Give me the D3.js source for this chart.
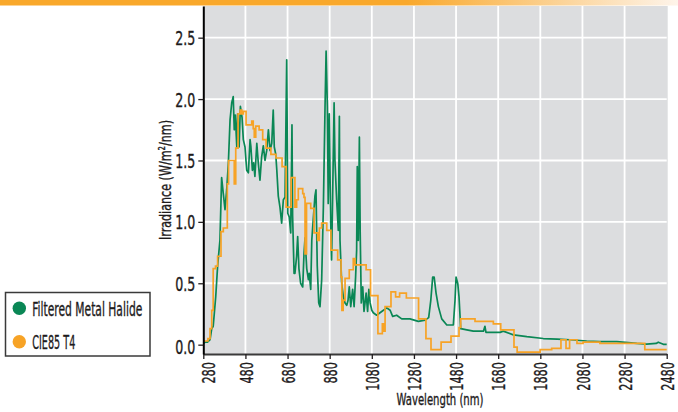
<!DOCTYPE html>
<html>
<head>
<meta charset="utf-8">
<script src="https://cdn.jsdelivr.net/npm/d3@7"></script>
<style>
  body { margin: 0; background: #fff; }
  text { font-family: "Liberation Sans Narrow", "DejaVu Sans Condensed", sans-serif; fill: #1e1b1c; stroke: #1e1b1c; stroke-width: 0.35px; }
</style>
</head>
<body>
<svg id="chart" width="678" height="412"></svg>
<script>
// tick labels
const xTicks = [280, 480, 680, 880, 1080, 1280, 1480, 1680, 1880, 2080, 2280, 2480];
const yTicks = [0.0, 0.5, 1.0, 1.5, 2.0, 2.5];

const seriesNames = ["Filtered Metal Halide", "CIE85 T4"];
const seriesColors = ["#0a8755", "#f7a326"];

// Filtered Metal Halide: [wavelength nm, irradiance W/m2/nm]
const metalHalide = [
  [280,0.01],[288,0.02],[300,0.02],[312,0.04],[320,0.13],[327,0.15],[339,0.39],[348,0.64],[359,0.85],
  [367,1.36],[375,1.23],[383,1.10],[391,1.26],[399,1.48],[407,1.83],[415,1.97],[422,2.02],[427,1.75],
  [432,1.87],[439,1.61],[443,1.88],[450,1.61],[456,1.94],[464,1.85],[470,1.67],[478,1.61],[486,1.42],
  [494,1.40],[502,1.67],[506,1.61],[513,1.42],[519,1.48],[525,1.37],[534,1.64],[541,1.48],[549,1.34],
  [557,1.53],[565,1.62],[573,1.50],[581,1.58],[589,1.75],[597,1.58],[605,1.64],[612,1.91],[617,1.61],
  [624,1.55],[629,1.42],[636,1.21],[644,1.12],[652,0.99],[660,1.18],[668,1.20],[676,2.32],[681,1.07],
  [688,1.04],[695,0.91],[701,1.79],[704,1.05],[711,0.58],[715,0.58],[723,0.72],[728,0.88],[734,0.62],
  [742,0.50],[752,0.47],[758,0.74],[763,0.87],[771,0.62],[779,0.53],[783,0.58],[790,0.45],[795,0.85],
  [802,1.02],[810,1.21],[815,1.26],[821,0.64],[828,0.34],[834,0.31],[842,0.53],[850,1.12],[858,1.94],
  [863,2.39],[869,1.94],[873,1.15],[878,1.88],[885,0.95],[889,0.69],[894,1.20],[901,1.97],[905,1.50],
  [913,1.18],[921,0.93],[926,1.86],[929,0.85],[937,0.50],[945,0.39],[953,0.34],[961,0.32],[967,0.36],
  [973,0.47],[980,0.31],[989,0.45],[996,0.31],[1003,0.55],[1008,0.77],[1011,1.45],[1016,0.85],[1021,1.69],
  [1025,0.90],[1030,0.34],[1037,0.47],[1043,0.27],[1053,0.42],[1060,0.27],[1066,0.45],[1072,0.34],
  [1080,0.28],[1087,0.26],[1103,0.24],[1127,0.27],[1151,0.30],[1167,0.28],[1179,0.23],[1198,0.24],
  [1222,0.21],[1261,0.21],[1301,0.19],[1333,0.20],[1350,0.22],[1360,0.36],[1369,0.55],[1376,0.55],
  [1385,0.42],[1396,0.31],[1412,0.21],[1436,0.16],[1467,0.16],[1475,0.36],[1480,0.55],[1488,0.50],
  [1494,0.39],[1502,0.13],[1531,0.12],[1562,0.11],[1610,0.11],[1617,0.15],[1622,0.10],[1657,0.10],
  [1689,0.10],[1704,0.11],[1752,0.08],[1816,0.065],[1894,0.05],[1960,0.045],[2021,0.04],[2100,0.03],
  [2163,0.025],[2243,0.025],[2338,0.01],[2385,0.005],[2430,0.01],[2440,0.02],[2455,0.01],[2464,0.003],
  [2480,0.003]
];

// CIE85 T4: step starts [wavelength nm, irradiance]
const cie85 = [
  [280,0.03],[302,0.05],[312,0.13],[320,0.28],[327,0.62],[338,0.64],[348,0.72],[364,0.92],[375,0.95],
  [394,1.31],[400,1.50],[427,1.31],[434,1.60],[445,1.88],[455,1.91],[463,1.88],[470,1.90],[483,1.79],
  [510,1.82],[517,1.76],[522,1.69],[529,1.78],[545,1.75],[562,1.67],[578,1.60],[601,1.55],[625,1.52],
  [654,1.45],[673,1.12],[697,1.36],[715,1.12],[723,1.18],[731,1.27],[752,1.23],[758,1.20],[763,0.74],
  [770,1.15],[790,1.11],[806,0.91],[823,0.85],[831,0.95],[842,0.99],[866,0.93],[886,0.77],[918,0.69],
  [934,0.55],[938,0.28],[944,0.36],[953,0.54],[973,0.61],[992,0.70],[1000,0.65],[1053,0.61],[1074,0.40],
  [1109,0.09],[1130,0.17],[1138,0.11],[1143,0.31],[1171,0.43],[1193,0.39],[1212,0.42],[1244,0.38],
  [1302,0.21],[1337,0.05],[1361,-0.04],[1409,0.02],[1456,0.07],[1494,0.14],[1502,0.21],[1570,0.19],
  [1657,0.17],[1692,0.12],[1755,-0.02],[1770,-0.06],[1879,-0.04],[1934,-0.03],[1978,0.04],[2002,-0.03],
  [2019,0.04],[2054,0.01],[2083,0.02],[2163,0.01],[2376,-0.04],[2480,-0.04]
];

const svg = d3.select("#chart");
const plot = {left: 203.3, right: 666.7, top: 6, bottom: 354};

const x = d3.scaleLinear().domain([280, 2480]).range([plot.left, plot.right]);
const y = d3.scaleLinear().domain([-0.076, 2.758]).range([plot.bottom, plot.top]);

// squeeze text to look like the condensed face of the original
function condense(sel, k) {
  sel.each(function() {
    const w = this.getComputedTextLength();
    d3.select(this).attr("textLength", w * k).attr("lengthAdjust", "spacingAndGlyphs");
  });
}

// orange band at the top
const grad = svg.append("defs").append("linearGradient").attr("id", "band");
grad.append("stop").attr("offset", "0.6").attr("stop-color", "#f9a82b");
grad.append("stop").attr("offset", "1").attr("stop-color", "#fef4ea");
svg.append("rect").attr("x", 0).attr("y", 0).attr("width", 678).attr("height", 5.5).attr("fill", "url(#band)");

// plot background
svg.append("rect")
  .attr("x", plot.left).attr("y", plot.top)
  .attr("width", plot.right - plot.left + 1).attr("height", plot.bottom - plot.top)
  .attr("fill", "#dcdddf");

// grid
svg.append("g").selectAll("line")
  .data(xTicks.slice(1, -1))
  .join("line")
  .attr("x1", d => x(d)).attr("x2", d => x(d))
  .attr("y1", plot.top).attr("y2", plot.bottom)
  .attr("stroke", "#fff").attr("stroke-width", 1.8);

svg.append("g").selectAll("line")
  .data(yTicks.filter(d => d > 0))
  .join("line")
  .attr("x1", plot.left).attr("x2", plot.right)
  .attr("y1", d => y(d)).attr("y2", d => y(d))
  .attr("stroke", "#fff").attr("stroke-width", 1.8);

// series
const line = d3.line().x(d => x(d[0])).y(d => y(d[1]));
const stepLine = d3.line().x(d => x(d[0])).y(d => y(d[1])).curve(d3.curveStepAfter);

svg.append("path")
  .datum(metalHalide)
  .attr("fill", "none")
  .attr("stroke", seriesColors[0])
  .attr("stroke-width", 1.7)
  .attr("stroke-linejoin", "round")
  .attr("d", line);

svg.append("path")
  .datum(cie85)
  .attr("fill", "none")
  .attr("stroke", seriesColors[1])
  .attr("stroke-width", 1.7)
  .attr("d", stepLine);

// axes
const xAxis = svg.append("g")
  .attr("transform", `translate(0,${plot.bottom})`)
  .call(d3.axisBottom(x).tickValues(xTicks).tickFormat(d3.format("d")).tickSize(5).tickSizeOuter(0));
xAxis.select(".domain").attr("stroke", "#3a3a3a").attr("stroke-width", 2);
xAxis.selectAll(".tick line").attr("stroke", "#231f20").attr("stroke-width", 1.3);
xAxis.selectAll(".tick text")
  .attr("transform", "rotate(-90)")
  .attr("x", -8).attr("y", 0).attr("dy", "0.36em")
  .style("text-anchor", "end")
  .style("font-size", "18.5px")
  .call(condense, 0.68);
xAxis.select(".tick text").attr("y", 5);

const yAxis = svg.append("g")
  .attr("transform", `translate(${plot.left},0)`)
  .call(d3.axisLeft(y).tickValues(yTicks).tickFormat(d3.format(".1f")).tickSize(5).tickSizeOuter(0).tickPadding(3));
yAxis.select(".domain").attr("stroke", "#000").attr("stroke-width", 2);
yAxis.selectAll(".tick line").attr("stroke", "#231f20").attr("stroke-width", 1.3);
yAxis.selectAll(".tick text")
  .style("font-size", "19.5px")
  .attr("dy", "0.36em")
  .call(condense, 0.72);
yAxis.select(".tick text").attr("dy", "0.46em");

// axis titles
svg.append("text")
  .attr("transform", "translate(171,180) rotate(-90)")
  .attr("text-anchor", "middle")
  .style("font-size", "16.5px")
  .attr("textLength", 120).attr("lengthAdjust", "spacingAndGlyphs")
  .text("Irradiance (W/m²/nm)");

svg.append("text")
  .attr("x", 440).attr("y", 405)
  .attr("text-anchor", "middle")
  .style("font-size", "16.5px")
  .attr("textLength", 87).attr("lengthAdjust", "spacingAndGlyphs")
  .text("Wavelength (nm)");

// legend
const legend = svg.append("g");
legend.append("rect")
  .attr("x", 5.5).attr("y", 292.5).attr("width", 144.5).attr("height", 63.5)
  .attr("fill", "#fff").attr("stroke", "#3a3a3a").attr("stroke-width", 1.5);

const legendLen = [110, 43];
const items = legend.selectAll("g.item")
  .data(seriesNames)
  .join("g")
  .attr("class", "item")
  .attr("transform", (d, i) => `translate(0,${308.3 + i * 33.4})`);
items.append("circle").attr("cx", 19.3).attr("cy", 0).attr("r", 6.7).attr("fill", (d, i) => seriesColors[i]);
items.append("text")
  .attr("x", 32.3).attr("y", 7.5)
  .style("font-size", "19.5px")
  .attr("textLength", (d, i) => legendLen[i]).attr("lengthAdjust", "spacingAndGlyphs")
  .text(d => d);
</script>
</body>
</html>
